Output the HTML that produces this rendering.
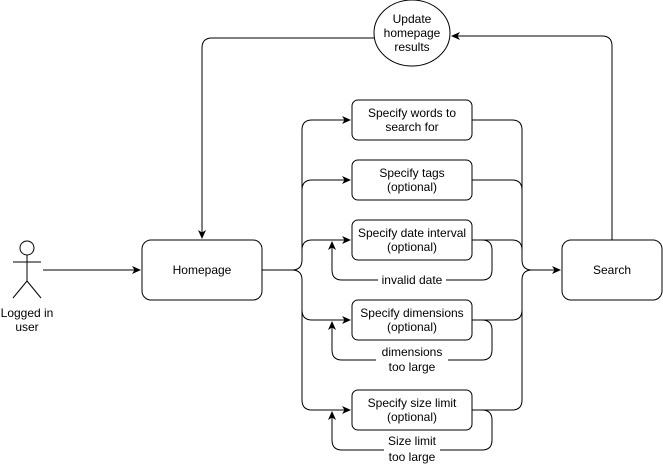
<!DOCTYPE html>
<html><head><style>body{margin:0;background:#fff}svg{display:block}text{font-family:"Liberation Sans",Arial,sans-serif;font-size:12px;fill:#000}</style></head><body>
<svg width="663" height="465" viewBox="0 0 663 465" xmlns="http://www.w3.org/2000/svg">
<defs><marker id="a" markerWidth="10" markerHeight="10" refX="8" refY="5" orient="auto" markerUnits="userSpaceOnUse"><path d="M0,1 L9,5 L0,9 L2.5,5 Z" fill="#000"/></marker></defs>
<g fill="none" stroke="#000" stroke-width="1">
<!-- actor -->
<circle cx="27" cy="248" r="7"/>
<path d="M27 255V281M13 262H41M27 281L13 298M27 281L41 298"/>
<path d="M43 270H140" marker-end="url(#a)"/>
<!-- boxes -->
<rect x="142" y="240" width="120" height="60" rx="9"/>
<rect x="562" y="240" width="100" height="60" rx="9"/>
<ellipse cx="412" cy="33" rx="38" ry="33"/>
<rect x="352" y="100" width="120" height="40" rx="6"/>
<rect x="352" y="160" width="120" height="40" rx="6"/>
<rect x="352" y="220" width="120" height="40" rx="6"/>
<rect x="352" y="300" width="120" height="40" rx="6"/>
<rect x="352" y="390" width="120" height="40" rx="6"/>
<!-- left bus -->
<path d="M262 270H292Q302 270 302 260V130Q302 120 312 120H350" marker-end="url(#a)"/>
<path d="M302 190Q302 180 312 180H350" marker-end="url(#a)"/>
<path d="M302 250Q302 240 312 240H350" marker-end="url(#a)"/>
<path d="M292 270Q302 270 302 280V310Q302 320 312 320H350" marker-end="url(#a)"/>
<path d="M302 310V400Q302 410 312 410H350" marker-end="url(#a)"/>
<!-- right bus -->
<path d="M472 120H512Q522 120 522 130V260Q522 270 532 270H560" marker-end="url(#a)"/>
<path d="M472 180H512Q522 180 522 190"/>
<path d="M472 240H512Q522 240 522 250"/>
<path d="M472 320H512Q522 320 522 310V280Q522 270 532 270"/>
<path d="M472 410H512Q522 410 522 400V310"/>
<!-- loops -->
<path d="M472 240H482Q492 240 492 250V270Q492 280 482 280H342Q332 280 332 270V242" marker-end="url(#a)"/>
<path d="M472 320H482Q492 320 492 330V350Q492 360 482 360H342Q332 360 332 350V322" marker-end="url(#a)"/>
<path d="M472 410H482Q492 410 492 420V440Q492 450 482 450H342Q332 450 332 440V412" marker-end="url(#a)"/>
<!-- top -->
<path d="M612 240V46Q612 36 602 36H452" marker-end="url(#a)"/>
<path d="M374 38H212Q202 38 202 48V238" marker-end="url(#a)"/>
</g>
<g fill="#fff"><rect x="378" y="273" width="68" height="14"/><rect x="376" y="345" width="72" height="28"/><rect x="384" y="434" width="56" height="28"/></g>
<g text-anchor="middle">
<text x="27" y="317">Logged in</text><text x="27" y="331">user</text>
<text x="202" y="274">Homepage</text>
<text x="612" y="274">Search</text>
<text x="412" y="23">Update</text><text x="412" y="37">homepage</text><text x="412" y="51">results</text>
<text x="412" y="117">Specify words to</text><text x="412" y="131">search for</text>
<text x="412" y="177">Specify tags</text><text x="412" y="191">(optional)</text>
<text x="412" y="237">Specify date interval</text><text x="412" y="251">(optional)</text>
<text x="412" y="284">invalid date</text>
<text x="412" y="317">Specify dimensions</text><text x="412" y="331">(optional)</text>
<text x="412" y="356">dimensions</text><text x="412" y="371">too large</text>
<text x="412" y="407">Specify size limit</text><text x="412" y="421">(optional)</text>
<text x="412" y="445">Size limit</text><text x="412" y="461">too large</text>
</g>
</svg>
</body></html>
